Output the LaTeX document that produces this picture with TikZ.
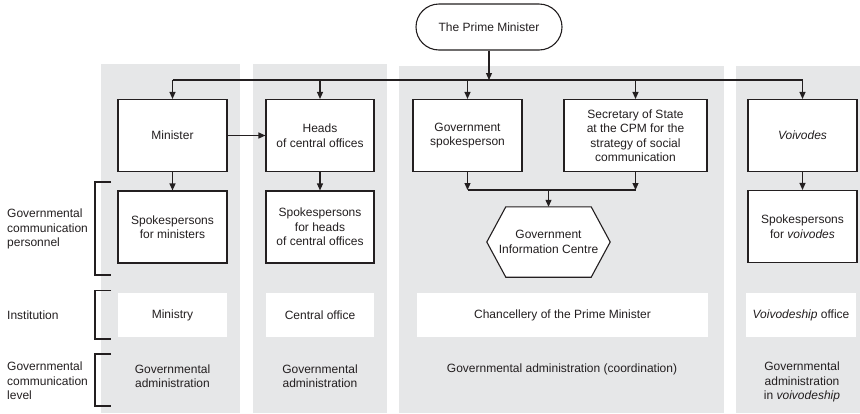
\documentclass[tikz,border=0pt]{standalone}
\usepackage{fontspec}
\setmainfont{Liberation Sans}
\usetikzlibrary{arrows.meta}
\definecolor{panel}{HTML}{E6E7E8}
\definecolor{ink}{HTML}{231F20}
\begin{document}
\begin{tikzpicture}[x=1pt,y=-1pt,
  every node/.style={font=\fontsize{12}{14.5}\selectfont, text=ink, align=center, inner sep=0pt},
  box/.style={draw=ink, fill=white, line width=1.1pt, minimum width=109pt, minimum height=72pt},
  inst/.style={fill=white, minimum height=44pt},
  arr/.style={line width=1.1pt, draw=ink, -{Triangle[length=7pt,width=6pt]}},
  link/.style={line width=1.1pt, draw=ink},
  bracket/.style={line width=1.1pt, draw=ink},
  side/.style={anchor=west, align=left}]
\useasboundingbox (0,0) rectangle (860,413);

% column panels
\fill[panel] (101,64) rectangle (240,413);
\fill[panel] (253,64) rectangle (387,413);
\fill[panel] (399,66) rectangle (724,413);
\fill[panel] (736,66) rectangle (860,413);

% top of the hierarchy
\node[draw=ink, fill=white, line width=1.1pt, rounded corners=23pt,
      minimum width=146pt, minimum height=46pt] (pm) at (489,27) {The Prime Minister};

% first row of offices
\node[box] (min) at (172.5,135.5) {Minister};
\node[box, minimum width=108pt] (hco) at (320,135.5) {Heads\\of central offices};
\node[box] (gsp) at (467.5,135.5) {Government\\spokesperson};
\node[box, minimum width=143pt] (sos) at (635.5,135.5) {Secretary of State\\at the CPM for the\\strategy of social\\communication};
\node[box] (voi) at (802.5,135.5) {\textit{Voivodes}};

% spokespersons
\node[box] (smin) at (172.5,227) {Spokespersons\\for ministers};
\node[box, minimum width=108pt] (shco) at (320,227) {Spokespersons\\for heads\\of central offices};
\node[box] (svoi) at (802.5,226.5) {Spokespersons\\for \textit{voivodes}};

% hexagonal centre
\node[minimum width=123pt, minimum height=70pt] (gic) at (548.5,242) {};
\filldraw[fill=white, draw=ink, line width=1.1pt]
  (gic.west) -- ([xshift=19pt]gic.north west) -- ([xshift=-19pt]gic.north east)
  -- (gic.east) -- ([xshift=-19pt]gic.south east) -- ([xshift=19pt]gic.south west) -- cycle;
\node at (gic.center) {Government\\Information Centre};

% institutions
\node[inst, minimum width=109pt] (ministry) at (172.5,315) {Ministry};
\node[inst, minimum width=108pt] (cof) at (320,315) {Central office};
\node[inst, minimum width=291pt] (kprm) at (562.5,315) {Chancellery of the Prime Minister};
\node[inst, minimum width=110pt] (vof) at (801,315) {\textit{Voivodeship} office};

% levels
\node (lv1) at (172.5,376) {Governmental\\administration};
\node (lv2) at (320,376) {Governmental\\administration};
\node (lv3) at (562,369.5) {Governmental administration (coordination)};
\node (lv4) at (802,382) {Governmental\\administration\\in \textit{voivodeship}};

% row labels and brackets
\node[side] (rowA) at (7,229) {Governmental\\communication\\personnel};
\node[side] (rowB) at (7,315) {Institution};
\node[side] (rowC) at (7,381) {Governmental\\communication\\level};
\draw[bracket] (111,182) -- (95,182) -- (95,275) -- (111,275);
\draw[bracket] (111,290.5) -- (95,290.5) -- (95,339) -- (111,339);
\draw[bracket] (111,354) -- (95,354) -- (95,406) -- (111,406);

% connectors
\coordinate (busL) at (172.5,80);
\coordinate (busR) at (802.5,80);
\coordinate (merge) at (548.5,190);
\draw[link] (busL) -- (busR);
\draw[arr] (pm.south) -- (pm.south |- busL);
\foreach \n in {min,hco,gsp,sos,voi}
  \draw[arr] (\n.north |- busL) -- (\n.north);
\draw[arr] (min) -- (hco);
\draw[arr] (min) -- (smin);
\draw[arr] (hco) -- (shco);
\draw[arr] (voi) -- (svoi);
\draw[arr] (gsp.south) -- (gsp.south |- merge);
\draw[arr] (sos.south) -- (sos.south |- merge);
\draw[link] (gsp.south |- merge) -- (sos.south |- merge);
\draw[arr] (merge) -- (gic.north);
\end{tikzpicture}
\end{document}
